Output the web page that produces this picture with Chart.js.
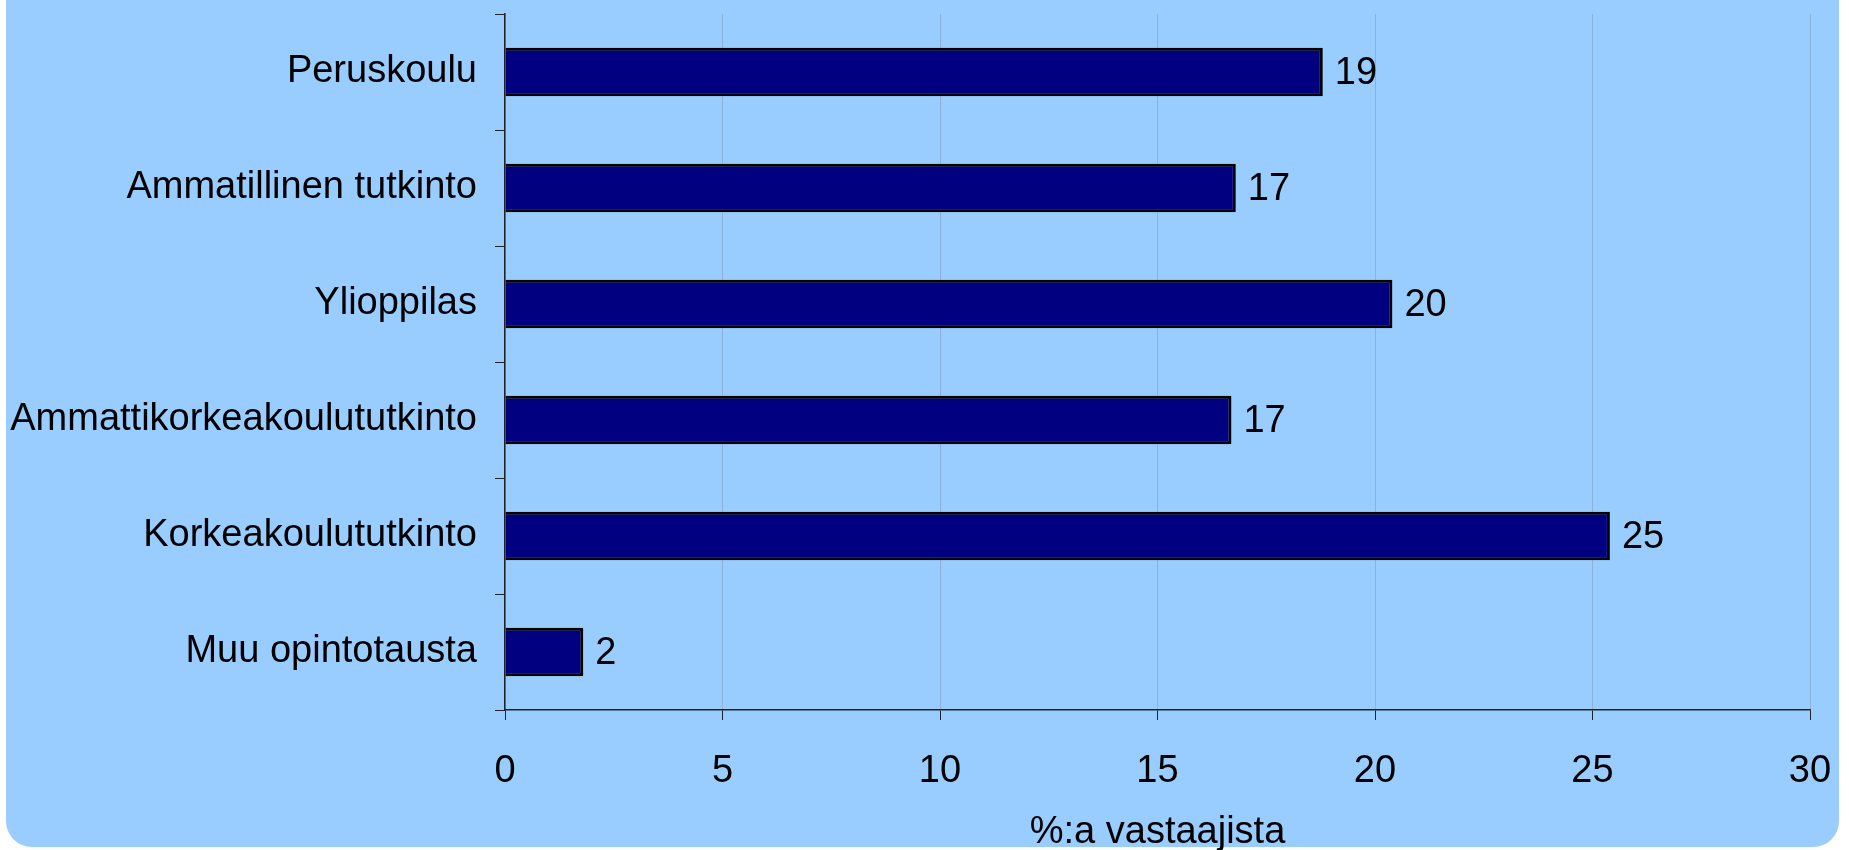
<!DOCTYPE html>
<html>
<head>
<meta charset="utf-8">
<script src="https://cdn.jsdelivr.net/npm/chart.js@4/dist/chart.umd.min.js"></script>
<style>
  html, body { margin: 0; padding: 0; background: #fff; overflow: hidden; }
  #panel {
    position: absolute; left: 6px; top: -80px; width: 1833px; height: 927px;
    background: #99ccff; border-radius: 26px;
  }
  #wrap { position: absolute; left: 0; top: 0; width: 1849px; height: 850px; }
</style>
</head>
<body>
<div id="panel"></div>
<div id="wrap"><canvas id="eduChart"></canvas></div>
<script>
// ── Data ───────────────────────────────────────────────────────
const categories = [
  'Peruskoulu',
  'Ammatillinen tutkinto',
  'Ylioppilas',
  'Ammattikorkeakoulututkinto',
  'Korkeakoulututkinto',
  'Muu opintotausta'
];
const shares = [18.8, 16.8, 20.4, 16.7, 25.4, 1.8];
const xTicks = [0, 5, 10, 15, 20, 25, 30];
const xTitle = '%:a vastaajista';

const FONT = "'Liberation Sans', Arial, sans-serif";

// ── Value labels at the end of each bar ────────────────────────
const valueLabels = {
  id: 'valueLabels',
  afterDatasetsDraw(chart) {
    const ctx = chart.ctx;
    const meta = chart.getDatasetMeta(0);
    ctx.save();
    ctx.font = `38px ${FONT}`;
    ctx.fillStyle = '#000';
    ctx.textAlign = 'left';
    ctx.textBaseline = 'middle';
    meta.data.forEach((bar, i) => {
      ctx.fillText(String(Math.round(shares[i])), bar.x + 12, bar.y + 2);
    });
    ctx.restore();
  }
};

new Chart(document.getElementById('eduChart'), {
  type: 'bar',
  data: {
    labels: categories,
    datasets: [{
      data: shares,
      backgroundColor: '#000080',
      borderColor: '#000000',
      borderWidth: 3,
      borderSkipped: 'left',
      categoryPercentage: 1,
      barPercentage: 0.42
    }]
  },
  options: {
    indexAxis: 'y',
    responsive: true,
    maintainAspectRatio: false,
    animation: false,
    layout: { padding: { top: 14, right: 39, left: 0, bottom: 0 } },
    plugins: {
      legend: { display: false },
      tooltip: { enabled: false }
    },
    scales: {
      x: {
        min: 0,
        max: 30,
        afterBuildTicks: (scale) => {
          scale.ticks = xTicks.map(v => ({ value: v }));
        },
        afterFit: (scale) => {
          scale.height = 140;
          scale.paddingLeft = 0;
          scale.paddingRight = 0;
        },
        grid: {
          color: 'rgba(120,130,140,0.35)',
          lineWidth: 1,
          tickColor: '#222',
          tickLength: 10
        },
        border: { color: '#222', width: 1.5 },
        ticks: {
          color: '#000',
          padding: 29,
          font: { family: FONT, size: 38 }
        },
        title: {
          display: true,
          text: xTitle,
          color: '#000',
          padding: { top: 0, bottom: -5 },
          font: { family: FONT, size: 38 }
        }
      },
      y: {
        afterFit: (scale) => {
          scale.width = 505;
          scale.paddingTop = 0;
          scale.paddingBottom = 0;
        },
        grid: {
          drawOnChartArea: false,
          offset: true,
          tickColor: '#222',
          tickLength: 10
        },
        border: { color: '#222', width: 1.5 },
        ticks: {
          color: '#000',
          padding: 18,
          font: { family: FONT, size: 38 }
        }
      }
    }
  },
  plugins: [valueLabels]
});
</script>
</body>
</html>
